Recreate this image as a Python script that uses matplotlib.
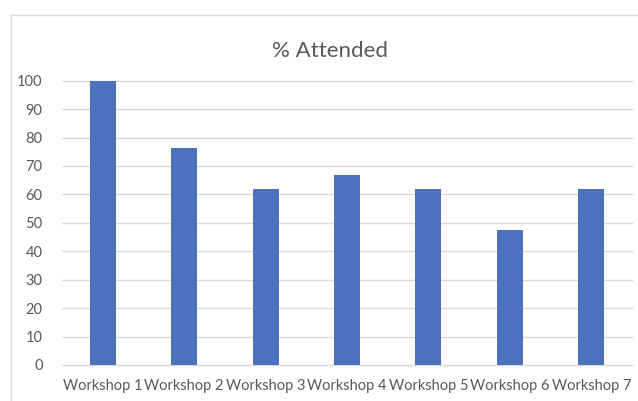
import matplotlib
matplotlib.use("Agg")
import matplotlib.pyplot as plt
from matplotlib.patches import Rectangle

categories = ["Workshop 1", "Workshop 2", "Workshop 3", "Workshop 4",
              "Workshop 5", "Workshop 6", "Workshop 7"]
values = [100.0, 76.19, 61.90, 66.67, 61.90, 47.62, 61.90]
yticks = [0, 10, 20, 30, 40, 50, 60, 70, 80, 90, 100]
title = "% Attended"

plt.rcParams['font.family'] = ['Lato', 'DejaVu Sans']

W, H = 638, 401
fig = plt.figure(figsize=(W / 100, H / 100), dpi=100)
fig.patch.set_facecolor("white")

# chart frame (cropped at right and bottom)
fig.patches.append(Rectangle((11 / W, -0.05), 1.2, 1 - 15 / H + 0.05,
                             transform=fig.transFigure, fill=False,
                             edgecolor="#D9D9D9", linewidth=1.0))

left, right = 62 / W, 632 / W
bottom, top = 1 - 365 / H, 1 - 80.7 / H
ax = fig.add_axes([left, bottom, right - left, top - bottom])

x = range(len(categories))
ax.bar(x, values, width=0.32, color="#4E71BE", zorder=3)

ax.set_xlim(-0.5, len(categories) - 0.5)
ax.set_ylim(0, 100)
ax.set_yticks(yticks)
ax.set_xticks(list(x))
ax.set_xticklabels(categories)

for yv in yticks:
    ax.axhline(yv, color="#D9D9D9", linewidth=1.0, zorder=1, clip_on=False)

for s in ax.spines.values():
    s.set_visible(False)
ax.tick_params(axis="both", length=0, colors="#595959", labelsize=10.5)
ax.tick_params(axis="y", pad=14)
ax.tick_params(axis="x", pad=10)

fig.text(330 / W, 1 - 51 / H, title, ha="center", va="center",
         fontsize=16, color="#595959")

fig.savefig("out.png", dpi=100)
